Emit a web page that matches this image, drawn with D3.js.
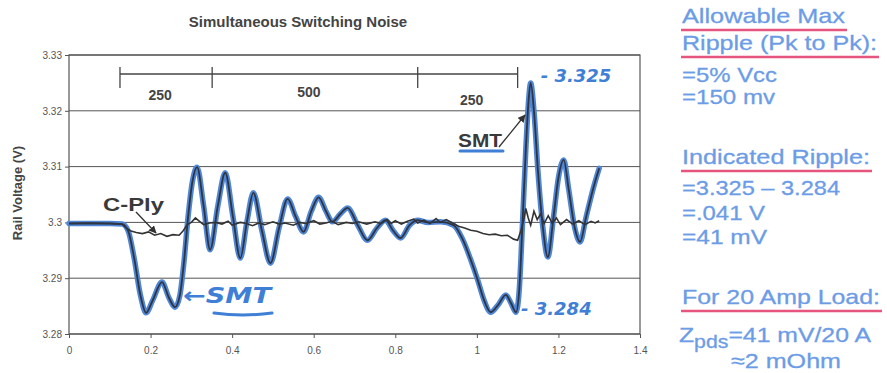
<!DOCTYPE html>
<html>
<head>
<meta charset="utf-8">
<script src="https://cdn.jsdelivr.net/npm/d3@7"></script>
<style>
  body { margin: 0; background: #fff; }
  svg { display: block; font-family: "Liberation Sans", Arial, sans-serif; }
</style>
</head>
<body>
<div id="chart"></div>
<script>
// SMT trace (time in us, volts)
const smtT = [0, 0.05, 0.10, 0.13, 0.145, 0.16, 0.175, 0.189, 0.205, 0.228, 0.245, 0.260, 0.272, 0.282, 0.292, 0.303, 0.314,
  0.330, 0.346, 0.365, 0.383, 0.402, 0.420, 0.436, 0.452, 0.473, 0.494, 0.515, 0.536, 0.556, 0.575, 0.594, 0.612, 0.630,
  0.646, 0.665, 0.683, 0.708, 0.732, 0.755, 0.776, 0.795, 0.813, 0.835, 0.855, 0.880, 0.911, 0.943, 0.965, 0.985, 1.002,
  1.017, 1.034, 1.052, 1.071, 1.084, 1.096, 1.104, 1.112, 1.120, 1.127, 1.132, 1.140, 1.150, 1.162, 1.174, 1.188, 1.200,
  1.213, 1.225, 1.240, 1.253, 1.268, 1.285, 1.300];
const smtV = [3.2998, 3.2998, 3.2998, 3.2997, 3.2985, 3.2935, 3.2870, 3.2838, 3.2860, 3.2893, 3.2865, 3.2848, 3.2870, 3.2930, 3.3010, 3.3075, 3.3099,
  3.3030, 3.2951, 3.3030, 3.3089, 3.3010, 3.2936, 3.3000, 3.3053, 3.2985, 3.2927, 3.2990, 3.3042, 3.3010, 3.2983, 3.3020, 3.3045, 3.3020,
  3.3001, 3.3015, 3.3026, 3.2995, 3.2968, 3.2990, 3.3004, 3.2985, 3.2972, 3.2995, 3.3004, 3.3000, 3.3001, 3.2995, 3.2970, 3.2933, 3.2897,
  3.2862, 3.2839, 3.2852, 3.2870, 3.2855, 3.2839, 3.2880, 3.3000, 3.3130, 3.3220, 3.3250, 3.3200, 3.3090, 3.2990, 3.2938, 3.3010, 3.3080,
  3.3112, 3.3060, 3.2990, 3.2965, 3.3010, 3.3060, 3.3097];

// C-Ply trace
const cplyT = [0, 0.05, 0.10, 0.13, 0.14, 0.15, 0.165, 0.18, 0.195, 0.21, 0.225, 0.24, 0.255, 0.27, 0.28, 0.29, 0.30, 0.31, 0.32,
  0.33, 0.345, 0.36, 0.375, 0.39, 0.40, 0.42, 0.435, 0.45, 0.465, 0.48, 0.50, 0.515, 0.53, 0.55, 0.565, 0.58, 0.60, 0.615, 0.63,
  0.645, 0.66, 0.68, 0.695, 0.71, 0.73, 0.75, 0.765, 0.78, 0.79, 0.80, 0.815, 0.83, 0.845, 0.855, 0.87, 0.885, 0.90, 0.91, 0.925,
  0.94, 0.955, 0.97, 0.985, 1.00, 1.015, 1.03, 1.045, 1.06, 1.075, 1.09, 1.10, 1.108, 1.115, 1.12, 1.126, 1.132, 1.14, 1.148,
  1.156, 1.165, 1.175, 1.185, 1.195, 1.205, 1.22, 1.235, 1.25, 1.265, 1.28, 1.29, 1.30];
const cplyV = [3.2998, 3.2999, 3.2998, 3.2997, 3.2990, 3.2985, 3.2982, 3.2980, 3.2983, 3.2977, 3.2980, 3.2975, 3.2978, 3.2977, 3.2985, 3.2996, 3.3000, 3.3008, 3.3002,
  3.2996, 3.2999, 3.3000, 3.2997, 3.3002, 3.2995, 3.3000, 3.2998, 3.2994, 3.2999, 3.2996, 3.3001, 3.2997, 3.2999, 3.2995, 3.3000, 3.2998, 3.3003, 3.2997, 3.2999,
  3.3002, 3.2996, 3.3000, 3.2998, 3.3001, 3.2997, 3.3001, 3.2998, 3.3005, 3.2998, 3.3003, 3.2997, 3.3002, 3.3006, 3.2999, 3.3004, 3.2998, 3.3007, 3.3000, 3.3005,
  3.2999, 3.2993, 3.2990, 3.2986, 3.2984, 3.2980, 3.2978, 3.2979, 3.2976, 3.2977, 3.2970, 3.2968, 3.2985, 3.3005, 3.3025, 3.3008, 3.2995, 3.3020, 3.3005,
  3.3015, 3.2998, 3.3012, 3.2998, 3.3008, 3.2996, 3.3005, 3.2997, 3.3003, 3.2996, 3.3002, 3.2999, 3.3003];

const xTicks = [0, 0.2, 0.4, 0.6, 0.8, 1, 1.2, 1.4];
const yTicks = [3.28, 3.29, 3.3, 3.31, 3.32, 3.33];

// timing bracket (ns segments)
const spanEdges = [0.125, 0.351, 0.855, 1.10];
const spanLabels = ["250", "500", "250"];

const notes = [
  { text: "Allowable Max", y: 23, w: 163, line: true },
  { text: "Ripple (Pk to Pk):", y: 50, w: 195, line: true },
  { text: "=5% Vcc", y: 82, w: 95 },
  { text: "=150 mv", y: 104, w: 93 },
  { text: "Indicated Ripple:", y: 164, w: 188, line: true },
  { text: "=3.325 \u2013 3.284", y: 195, w: 158 },
  { text: "=.041 V", y: 220, w: 83 },
  { text: "=41 mV", y: 244, w: 85 },
  { text: "For 20 Amp Load:", y: 304, w: 198, line: true }
];

const width = 887, height = 373;
const margin = { left: 69, right: 247, top: 55, bottom: 39 };

const svg = d3.select("#chart").append("svg")
  .attr("width", width)
  .attr("height", height);

const x = d3.scaleLinear().domain([0, 1.4]).range([margin.left, width - margin.right]);
const y = d3.scaleLinear().domain([3.28, 3.33]).range([height - margin.bottom, margin.top]);

// title
svg.append("text")
  .attr("x", 298).attr("y", 27)
  .attr("text-anchor", "middle")
  .attr("font-size", 15).attr("font-weight", "bold")
  .attr("fill", "#444")
  .text("Simultaneous Switching Noise");

// grid
svg.append("g").selectAll("line")
  .data(yTicks)
  .join("line")
  .attr("x1", x(0)).attr("x2", x(1.4))
  .attr("y1", d => y(d)).attr("y2", d => y(d))
  .attr("stroke", "#555").attr("stroke-width", 1);

svg.append("rect")
  .attr("x", x(0)).attr("y", y(3.33))
  .attr("width", x(1.4) - x(0)).attr("height", y(3.28) - y(3.33))
  .attr("fill", "none").attr("stroke", "#555").attr("stroke-width", 1.2);

// axes
const xAxis = svg.append("g")
  .attr("transform", `translate(0,${y(3.28)})`)
  .call(d3.axisBottom(x).tickValues(xTicks).tickSize(4).tickFormat(d3.format("")));
const yAxis = svg.append("g")
  .attr("transform", `translate(${x(0)},0)`)
  .call(d3.axisLeft(y).tickValues(yTicks).tickSize(4).tickFormat(d3.format("")));
[xAxis, yAxis].forEach(a => {
  a.select(".domain").remove();
  a.selectAll("line").attr("stroke", "#555");
  a.selectAll("text").attr("font-size", 10).attr("fill", "#555")
    .attr("font-family", "Liberation Sans, Arial, sans-serif");
});
xAxis.selectAll("text").attr("dy", "1.3em");

svg.append("text")
  .attr("transform", `translate(22,${193}) rotate(-90)`)
  .attr("text-anchor", "middle")
  .attr("font-size", 13).attr("font-weight", "bold")
  .attr("fill", "#444")
  .text("Rail Voltage (V)");

// timing bracket
const brY = 74;
svg.append("line")
  .attr("x1", x(spanEdges[0])).attr("x2", x(spanEdges[3]))
  .attr("y1", brY).attr("y2", brY)
  .attr("stroke", "#444").attr("stroke-width", 1.3);
svg.append("g").selectAll("line")
  .data(spanEdges)
  .join("line")
  .attr("x1", d => x(d)).attr("x2", d => x(d))
  .attr("y1", brY - 7).attr("y2", brY + 14)
  .attr("stroke", "#444").attr("stroke-width", 1.3);
const labelY = [100, 97, 105];
svg.append("g").selectAll("text")
  .data(spanLabels)
  .join("text")
  .attr("x", (d, i) => x((spanEdges[i] + spanEdges[i + 1]) / 2) + (i === 2 ? 4 : -6))
  .attr("y", (d, i) => labelY[i])
  .attr("text-anchor", "middle")
  .attr("font-size", 14).attr("font-weight", "bold")
  .attr("fill", "#444")
  .text(d => d);

// traces
const smt = smtT.map((t, i) => [t, smtV[i]]);
const cply = cplyT.map((t, i) => [t, cplyV[i]]);
const smooth = d3.line().x(d => x(d[0])).y(d => y(d[1])).curve(d3.curveMonotoneX);
const rough = d3.line().x(d => x(d[0])).y(d => y(d[1]));

svg.append("path").attr("d", smooth(smt))
  .attr("fill", "none").attr("stroke", "#4f86d6").attr("stroke-width", 5.5)
  .attr("stroke-linejoin", "round").attr("stroke-linecap", "round");
svg.append("path").attr("d", rough(cply))
  .attr("fill", "none").attr("stroke", "#333").attr("stroke-width", 1.6);
svg.append("path").attr("d", smooth(smt))
  .attr("fill", "none").attr("stroke", "#2e3440").attr("stroke-width", 1.8)
  .attr("stroke-linejoin", "round");

// arrowheads
const defs = svg.append("defs");
defs.append("marker").attr("id", "ah")
  .attr("viewBox", "0 0 10 10").attr("refX", 9).attr("refY", 5)
  .attr("markerWidth", 6).attr("markerHeight", 6).attr("orient", "auto")
  .append("path").attr("d", "M0,0L10,5L0,10Z").attr("fill", "#333");

// C-Ply label
svg.append("text")
  .attr("x", 103).attr("y", 211)
  .attr("font-size", 19).attr("font-weight", "bold").attr("fill", "#3a3a3a")
  .attr("textLength", 61).attr("lengthAdjust", "spacingAndGlyphs")
  .text("C-Ply");
svg.append("line")
  .attr("x1", 136).attr("y1", 212).attr("x2", 156).attr("y2", 233)
  .attr("stroke", "#333").attr("stroke-width", 1.3).attr("marker-end", "url(#ah)");

// SMT label top
svg.append("text")
  .attr("x", 458).attr("y", 147)
  .attr("font-size", 18).attr("font-weight", "bold").attr("fill", "#3a3a3a")
  .attr("textLength", 44).attr("lengthAdjust", "spacingAndGlyphs")
  .text("SMT");
svg.append("line")
  .attr("x1", 460).attr("x2", 503).attr("y1", 151).attr("y2", 151)
  .attr("stroke", "#3f7fd6").attr("stroke-width", 3).attr("stroke-linecap", "round");
svg.append("line")
  .attr("x1", 499).attr("y1", 147).attr("x2", 525).attr("y2", 115)
  .attr("stroke", "#333").attr("stroke-width", 1.3).attr("marker-end", "url(#ah)");

// hand-written annotations
const hand = "#3f7fd6";
svg.append("text")
  .attr("x", 183).attr("y", 303)
  .attr("font-size", 22).attr("font-weight", "bold").attr("font-style", "italic")
  .attr("fill", hand).attr("font-family", "DejaVu Sans, sans-serif")
  .attr("textLength", 88).attr("lengthAdjust", "spacingAndGlyphs")
  .text("\u2190SMT");
svg.append("path")
  .attr("d", "M214,313 Q243,317 272,313")
  .attr("fill", "none").attr("stroke", hand).attr("stroke-width", 3).attr("stroke-linecap", "round");

svg.append("text")
  .attr("x", x(1.132) + 10).attr("y", 82)
  .attr("font-size", 18).attr("font-style", "italic").attr("font-weight", "bold")
  .attr("fill", hand).attr("font-family", "DejaVu Sans, sans-serif")
  .text("- 3.325");
svg.append("text")
  .attr("x", x(1.096) + 5).attr("y", 315)
  .attr("font-size", 18).attr("font-style", "italic").attr("font-weight", "bold")
  .attr("fill", hand).attr("font-family", "DejaVu Sans, sans-serif")
  .text("- 3.284");

// right notes
const noteBlue = "#6c9ce6";
const noteX = 682;
const ng = svg.append("g");
ng.selectAll("text.note")
  .data(notes)
  .join("text")
  .attr("class", "note")
  .attr("x", noteX).attr("y", d => d.y)
  .attr("font-size", 21).attr("fill", noteBlue)
  .attr("stroke", noteBlue).attr("stroke-width", 0.3)
  .attr("textLength", d => d.w).attr("lengthAdjust", "spacingAndGlyphs")
  .text(d => d.text);
ng.selectAll("line")
  .data(notes.filter(d => d.line))
  .join("line")
  .attr("x1", noteX - 1).attr("x2", d => noteX + d.w + 2)
  .attr("y1", d => d.y + 7).attr("y2", d => d.y + 7)
  .attr("stroke", "#e5557d").attr("stroke-width", 2.5);

const z = ng.append("text")
  .attr("x", 679).attr("y", 342)
  .attr("font-size", 21).attr("fill", noteBlue)
  .attr("stroke", noteBlue).attr("stroke-width", 0.3)
  .attr("textLength", 192).attr("lengthAdjust", "spacingAndGlyphs");
z.append("tspan").text("Z");
z.append("tspan").attr("font-size", 18).attr("dy", 6).text("pds");
z.append("tspan").attr("dy", -6).text("=41 mV/20 A");

ng.append("text")
  .attr("x", 731).attr("y", 368)
  .attr("font-size", 21).attr("fill", noteBlue)
  .attr("stroke", noteBlue).attr("stroke-width", 0.3)
  .attr("textLength", 110).attr("lengthAdjust", "spacingAndGlyphs")
  .text("\u22482 mOhm");
</script>
</body>
</html>
